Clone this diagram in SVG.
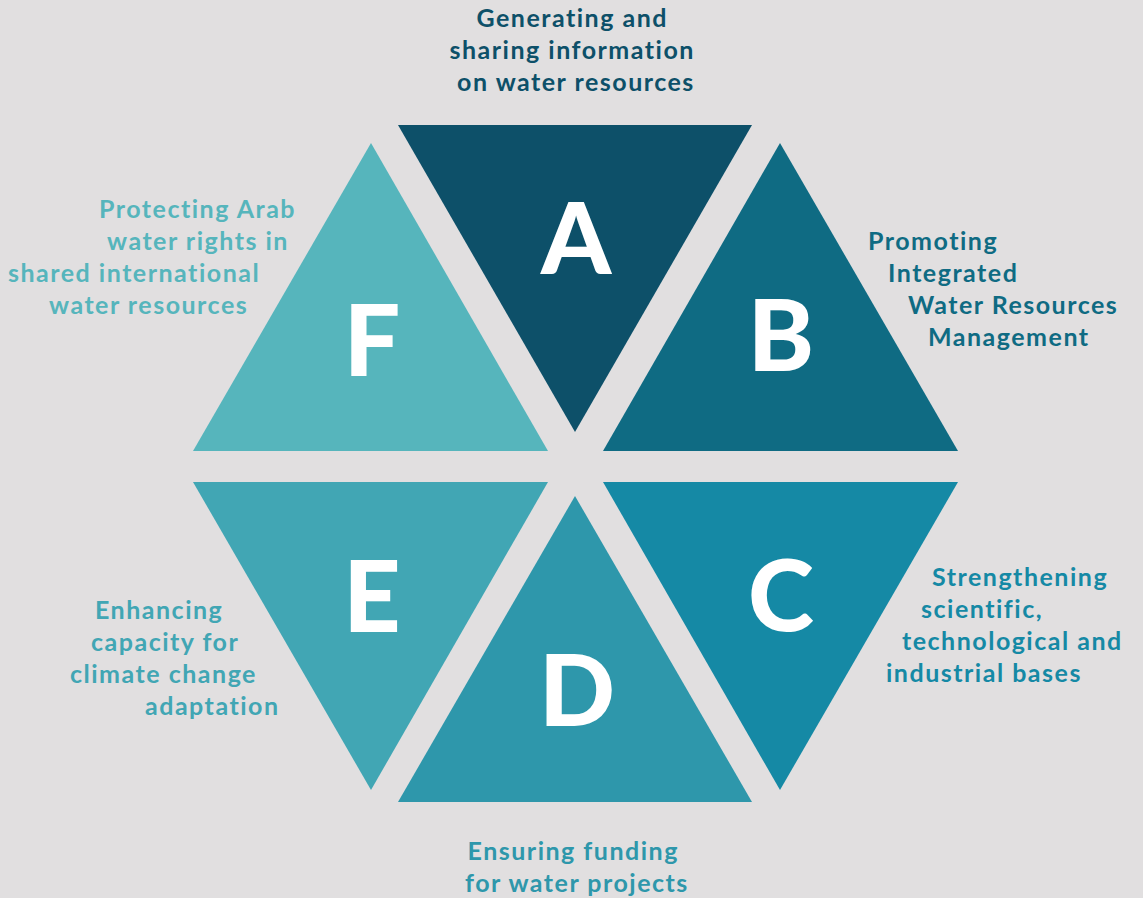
<svg xmlns="http://www.w3.org/2000/svg" width="1143" height="898" viewBox="0 0 1143 898">
  <style>
    .lbl { font-family: Lato, "Noto Sans", "Liberation Sans", sans-serif; font-weight: 700; font-size: 25px; letter-spacing: 1.5px; }
    .big { font-family: Lato, "Noto Sans", "Liberation Sans", sans-serif; font-weight: 900; font-size: 100px; fill: #ffffff; text-anchor: middle; }
    .cA { fill: #0d5069; } .cB { fill: #0f6b83; } .cC { fill: #1589a5; }
    .cD { fill: #2e97ab; } .cE { fill: #41a6b4; } .cF { fill: #56b5bc; }
  </style>
  <rect width="1143" height="898" fill="#e1dfe0"/>

  <g id="node-A">
    <polygon class="cA" points="398,125 752,125 575,432"/>
    <text class="big" x="576" y="274">A</text>
    <text class="lbl cA" text-anchor="middle">
      <tspan x="576" y="27">Generating and</tspan>
      <tspan x="576" y="59">sharing information</tspan>
      <tspan x="576" y="91">on water resources</tspan>
    </text>
  </g>

  <g id="node-B">
    <polygon class="cB" points="780,143 958,451 603,451"/>
    <text class="big" x="781" y="371">B</text>
    <text class="lbl cB">
      <tspan x="868" y="250">Promoting</tspan>
      <tspan x="888" y="282">Integrated</tspan>
      <tspan x="908" y="314">Water Resources</tspan>
      <tspan x="928" y="346">Management</tspan>
    </text>
  </g>

  <g id="node-C">
    <polygon class="cC" points="603,482 958,482 780,790"/>
    <text class="big" x="781" y="631">C</text>
    <text class="lbl cC">
      <tspan x="932" y="586">Strengthening</tspan>
      <tspan x="921" y="618">scientific,</tspan>
      <tspan x="902" y="650">technological and</tspan>
      <tspan x="886" y="682">industrial bases</tspan>
    </text>
  </g>

  <g id="node-D">
    <polygon class="cD" points="575,496 752,802 398,802"/>
    <text class="big" x="577" y="726">D</text>
    <text class="lbl cD" text-anchor="middle">
      <tspan x="577" y="860">Ensuring funding</tspan>
      <tspan x="577" y="892">for water projects</tspan>
    </text>
  </g>

  <g id="node-E">
    <polygon class="cE" points="193,482 548,482 371,790"/>
    <text class="big" x="372" y="632">E</text>
    <text class="lbl cE">
      <tspan x="95" y="619">Enhancing</tspan>
      <tspan x="91" y="651">capacity for</tspan>
      <tspan x="70" y="683">climate change</tspan>
      <tspan x="145" y="715">adaptation</tspan>
    </text>
  </g>

  <g id="node-F">
    <polygon class="cF" points="371,143 548,451 193,451"/>
    <text class="big" x="372" y="376">F</text>
    <text class="lbl cF">
      <tspan x="99" y="218">Protecting Arab</tspan>
      <tspan x="107" y="250">water rights in</tspan>
      <tspan x="8" y="282">shared international</tspan>
      <tspan x="49" y="314">water resources</tspan>
    </text>
  </g>

  <g id="connectors"></g>
</svg>
